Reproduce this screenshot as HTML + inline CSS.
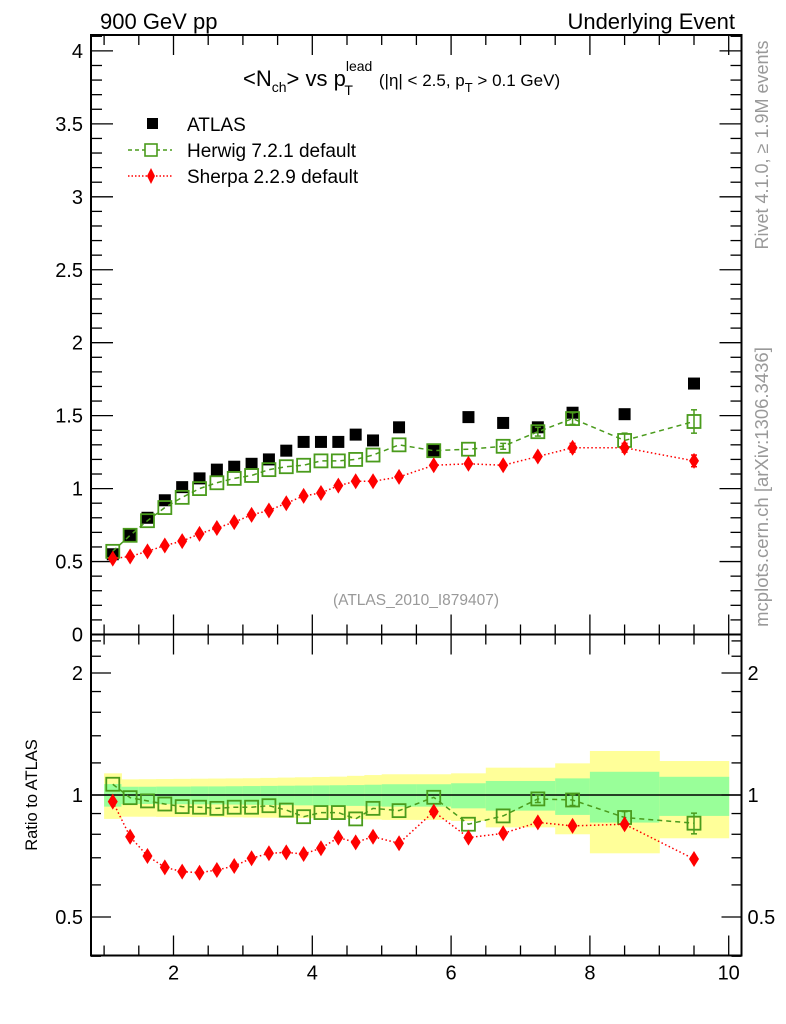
<!DOCTYPE html>
<html><head><meta charset="utf-8"><style>
html,body{margin:0;padding:0;background:#fff;}
svg{display:block;font-family:"Liberation Sans",sans-serif;}
</style></head><body>
<svg id="chart" width="786" height="1024" viewBox="0 0 786 1024" xmlns="http://www.w3.org/2000/svg">
<text x="100" y="29" font-size="22">900 GeV pp</text>
<text x="735" y="29" font-size="22" text-anchor="end">Underlying Event</text>
<text x="243" y="86" font-size="22">&lt;N<tspan font-size="14" dy="6">ch</tspan><tspan dy="-6">&gt; vs p</tspan><tspan font-size="14" dy="-15">lead</tspan><tspan font-size="14" dx="-28" dy="24">T</tspan><tspan font-size="17" dx="26" dy="-9">(|η| &lt; 2.5, p</tspan><tspan font-size="13" dy="6">T</tspan><tspan font-size="17" dy="-6"> &gt; 0.1 GeV)</tspan></text>
<text x="416" y="605" font-size="15.5" fill="#999" text-anchor="middle">(ATLAS_2010_I879407)</text>
<text transform="translate(768,145) rotate(-90)" font-size="18" fill="#999" text-anchor="middle">Rivet 4.1.0, ≥ 1.9M events</text>
<text transform="translate(768,487) rotate(-90)" font-size="18.5" fill="#999" text-anchor="middle">mcplots.cern.ch [arXiv:1306.3436]</text>
<text transform="translate(37,795) rotate(-90)" font-size="16.5" text-anchor="middle">Ratio to ATLAS</text>
<g id="legend">
 <g><rect x="147" y="118" width="11" height="11" fill="#000"/><text x="187" y="131" font-size="19">ATLAS</text></g>
 <g><line x1="128" y1="150" x2="172" y2="150" stroke="#4a9b1c" stroke-width="1.5" stroke-dasharray="4,3"/><rect x="145" y="144" width="12" height="12" fill="#fff" stroke="#4a9b1c" stroke-width="1.6"/><text x="187" y="157" font-size="19">Herwig 7.2.1 default</text></g>
 <g><line x1="128" y1="176" x2="172" y2="176" stroke="#f00" stroke-width="1.5" stroke-dasharray="1.5,2"/><path d="M151,168 L155,176 L151,184 L147,176 Z" fill="#f00"/><text x="187" y="183" font-size="19">Sherpa 2.2.9 default</text></g>
</g>
</svg>
<script>
const binLo=[1,1.25,1.5,1.75,2,2.25,2.5,2.75,3,3.25,3.5,3.75,4,4.25,4.5,4.75,5,5.5,6,6.5,7,7.5,8,9];
const binHi=[1.25,1.5,1.75,2,2.25,2.5,2.75,3,3.25,3.5,3.75,4,4.25,4.5,4.75,5,5.5,6,6.5,7,7.5,8,9,10];
const xCenters=[1.125,1.375,1.625,1.875,2.125,2.375,2.625,2.875,3.125,3.375,3.625,3.875,4.125,4.375,4.625,4.875,5.25,5.75,6.25,6.75,7.25,7.75,8.5,9.5];
const atlasVals=[0.55,0.68,0.80,0.92,1.01,1.07,1.13,1.15,1.17,1.20,1.26,1.32,1.32,1.32,1.37,1.33,1.42,1.26,1.49,1.45,1.42,1.52,1.51,1.72];
const herwigVals=[0.57,0.68,0.78,0.87,0.94,1.00,1.04,1.07,1.09,1.13,1.15,1.16,1.19,1.19,1.20,1.23,1.30,1.26,1.27,1.29,1.39,1.48,1.33,1.46];
const sherpaVals=[0.52,0.535,0.57,0.61,0.64,0.69,0.73,0.77,0.82,0.85,0.90,0.95,0.97,1.02,1.05,1.05,1.08,1.16,1.17,1.16,1.22,1.28,1.28,1.19];
const herwigErr=[0,0,0,0,0,0,0,0,0,0,0,0,0,0,0,0,0,0,0,0.02,0.03,0.04,0.05,0.08];
const sherpaErr=[0,0,0,0,0,0,0,0,0,0,0,0,0,0,0,0,0,0,0,0,0,0.03,0.03,0.04];
const herwigRatio=[1.063,0.985,0.967,0.95,0.936,0.933,0.927,0.933,0.933,0.941,0.918,0.884,0.905,0.905,0.873,0.927,0.915,0.987,0.847,0.888,0.978,0.972,0.88,0.852];
const sherpaRatio=[0.963,0.789,0.707,0.663,0.647,0.643,0.653,0.668,0.698,0.718,0.722,0.715,0.739,0.785,0.764,0.789,0.76,0.91,0.785,0.804,0.856,0.839,0.847,0.695];
const herwigRatioErr=[0,0,0,0,0,0,0,0,0,0,0,0,0,0,0,0,0,0,0,0,0.02,0.03,0.03,0.05];
const yellowHi=[1.131,1.093,1.094,1.095,1.096,1.097,1.098,1.099,1.10,1.102,1.104,1.106,1.108,1.11,1.115,1.12,1.125,1.125,1.131,1.168,1.168,1.197,1.284,1.213];
const yellowLo=[0.873,0.884,0.884,0.883,0.883,0.882,0.882,0.881,0.88,0.879,0.878,0.877,0.876,0.875,0.873,0.87,0.868,0.868,0.863,0.832,0.832,0.80,0.718,0.782];
const greenHi=[1.064,1.048,1.048,1.049,1.049,1.050,1.050,1.051,1.052,1.053,1.054,1.055,1.056,1.057,1.058,1.06,1.063,1.063,1.069,1.083,1.083,1.099,1.141,1.109];
const greenLo=[0.936,0.95,0.95,0.949,0.949,0.948,0.948,0.947,0.946,0.945,0.944,0.943,0.942,0.941,0.94,0.938,0.936,0.936,0.927,0.915,0.915,0.893,0.855,0.888];
const mainYTicks=[0,0.5,1,1.5,2,2.5,3,3.5,4];
const xTickLabels=[2,4,6,8,10];
const ratioTicks=[0.5,1,2];

const NS="http://www.w3.org/2000/svg";
const svg=document.getElementById('chart');
const L=91,R=741.5,T=35,MB=634.5,RB=955.5;
const X=x=>173.5+(x-2)*69.4;
const Y=v=>634.5-v*145.9;
const YR=r=>795-Math.log2(r)*122;
function mk(tag,attrs,parent){const e=document.createElementNS(NS,tag);for(const k in attrs)e.setAttribute(k,attrs[k]);(parent||svg).appendChild(e);return e;}

const bands=mk('g',{});


for(let i=0;i<binLo.length;i++){
  const y=mk('rect',{x:X(binLo[i]),y:YR(yellowHi[i]),width:X(binHi[i])-X(binLo[i])+0.5,height:YR(yellowLo[i])-YR(yellowHi[i]),fill:'#ffff99'},bands);
  
  
  const g=mk('rect',{x:X(binLo[i]),y:YR(greenHi[i]),width:X(binHi[i])-X(binLo[i])+0.5,height:YR(greenLo[i])-YR(greenHi[i]),fill:'#99ff99'},bands);
  
  
}
const one=mk('line',{x1:L,x2:R,y1:YR(1),y2:YR(1),stroke:'#000','stroke-width':1.5});



const ax=mk('g',{stroke:'#000','stroke-width':2,fill:'none'});


mk('rect',{x:L,y:T,width:R-L,height:MB-T},ax);
mk('rect',{x:L,y:MB,width:R-L,height:RB-MB},ax);
const tk=mk('g',{stroke:'#000','stroke-width':1.3});


for(let x=1;x<=10.01;x+=0.5){
  const px=X(x);const maj=Math.abs(x%2)<0.01;const len=maj?20:10;
  [T,MB].forEach(b=>mk('line',{x1:px,x2:px,y1:b,y2:b+len},tk));
  [MB,RB].forEach(b=>mk('line',{x1:px,x2:px,y1:b,y2:b-len},tk));
}
for(let k=0;k<=41;k++){const v=k/10;const py=Y(v);if(py<T)break;const maj=k%5==0;const len=maj?22:11;
  mk('line',{x1:L,x2:L+len,y1:py,y2:py},tk);mk('line',{x1:R,x2:R-len,y1:py,y2:py},tk);}
[0.4,0.6,0.7,0.8,0.9,1.2,1.4,1.6,1.8,2.2,2.4].forEach(r=>{const py=YR(r);mk('line',{x1:L,x2:L+10,y1:py,y2:py},tk);mk('line',{x1:R,x2:R-10,y1:py,y2:py},tk);});
ratioTicks.forEach(r=>{const py=YR(r);mk('line',{x1:L,x2:L+20,y1:py,y2:py},tk);mk('line',{x1:R,x2:R-20,y1:py,y2:py},tk);});

mainYTicks.forEach(v=>{const t=mk('text',{x:L-8,y:Y(v)+7,'font-size':20,'text-anchor':'end'});t.textContent=v;
  
  });
ratioTicks.forEach(r=>{
  const a=mk('text',{x:L-8,y:YR(r)+7,'font-size':20,'text-anchor':'end'});a.textContent=r;
  
  
  const b=mk('text',{x:R+6,y:YR(r)+7,'font-size':20});b.textContent=r;
  
  });
xTickLabels.forEach(x=>{const t=mk('text',{x:X(x),y:RB+24,'font-size':20,'text-anchor':'middle'});t.textContent=x;
  
  });

function series(vals,errs,yf,color,dash,kind,name){
  const g=mk('g',{});
  
  
  if(dash) mk('polyline',{points:xCenters.map((x,i)=>X(x)+','+yf(vals[i])).join(' '),fill:'none',stroke:color,'stroke-width':1.5,'stroke-dasharray':dash},g);
  xCenters.forEach((x,i)=>{const px=X(x),py=yf(vals[i]);
    if(errs&&errs[i]>0){const a=yf(vals[i]+errs[i]),b=yf(vals[i]-errs[i]);
      mk('line',{x1:px,x2:px,y1:a,y2:b,stroke:color,'stroke-width':1.5},g);
      mk('line',{x1:px-3,x2:px+3,y1:a,y2:a,stroke:color,'stroke-width':1.5},g);
      mk('line',{x1:px-3,x2:px+3,y1:b,y2:b,stroke:color,'stroke-width':1.5},g);}
    let m;
    if(kind==='fill') m=mk('rect',{x:px-6,y:py-6,width:12,height:12,fill:color},g);
    else if(kind==='open') m=mk('rect',{x:px-6.5,y:py-6.5,width:13,height:13,fill:'none',stroke:color,'stroke-width':1.8},g);
    else m=mk('path',{d:`M${px},${py-8}L${px+5},${py}L${px},${py+8}L${px-5},${py}Z`,fill:color},g);
    
    
  });
}
series(atlasVals,null,Y,'#000',null,'fill','atlas-data');
series(herwigVals,herwigErr,Y,'#4a9b1c','5,4','open','herwig-series');
series(sherpaVals,sherpaErr,Y,'#ff0000','1.5,2.5','diamond','sherpa-series');
series(herwigRatio,herwigRatioErr,YR,'#4a9b1c','5,4','open','herwig-ratio');
series(sherpaRatio,null,YR,'#ff0000','1.5,2.5','diamond','sherpa-ratio');
</script>
</body></html>
